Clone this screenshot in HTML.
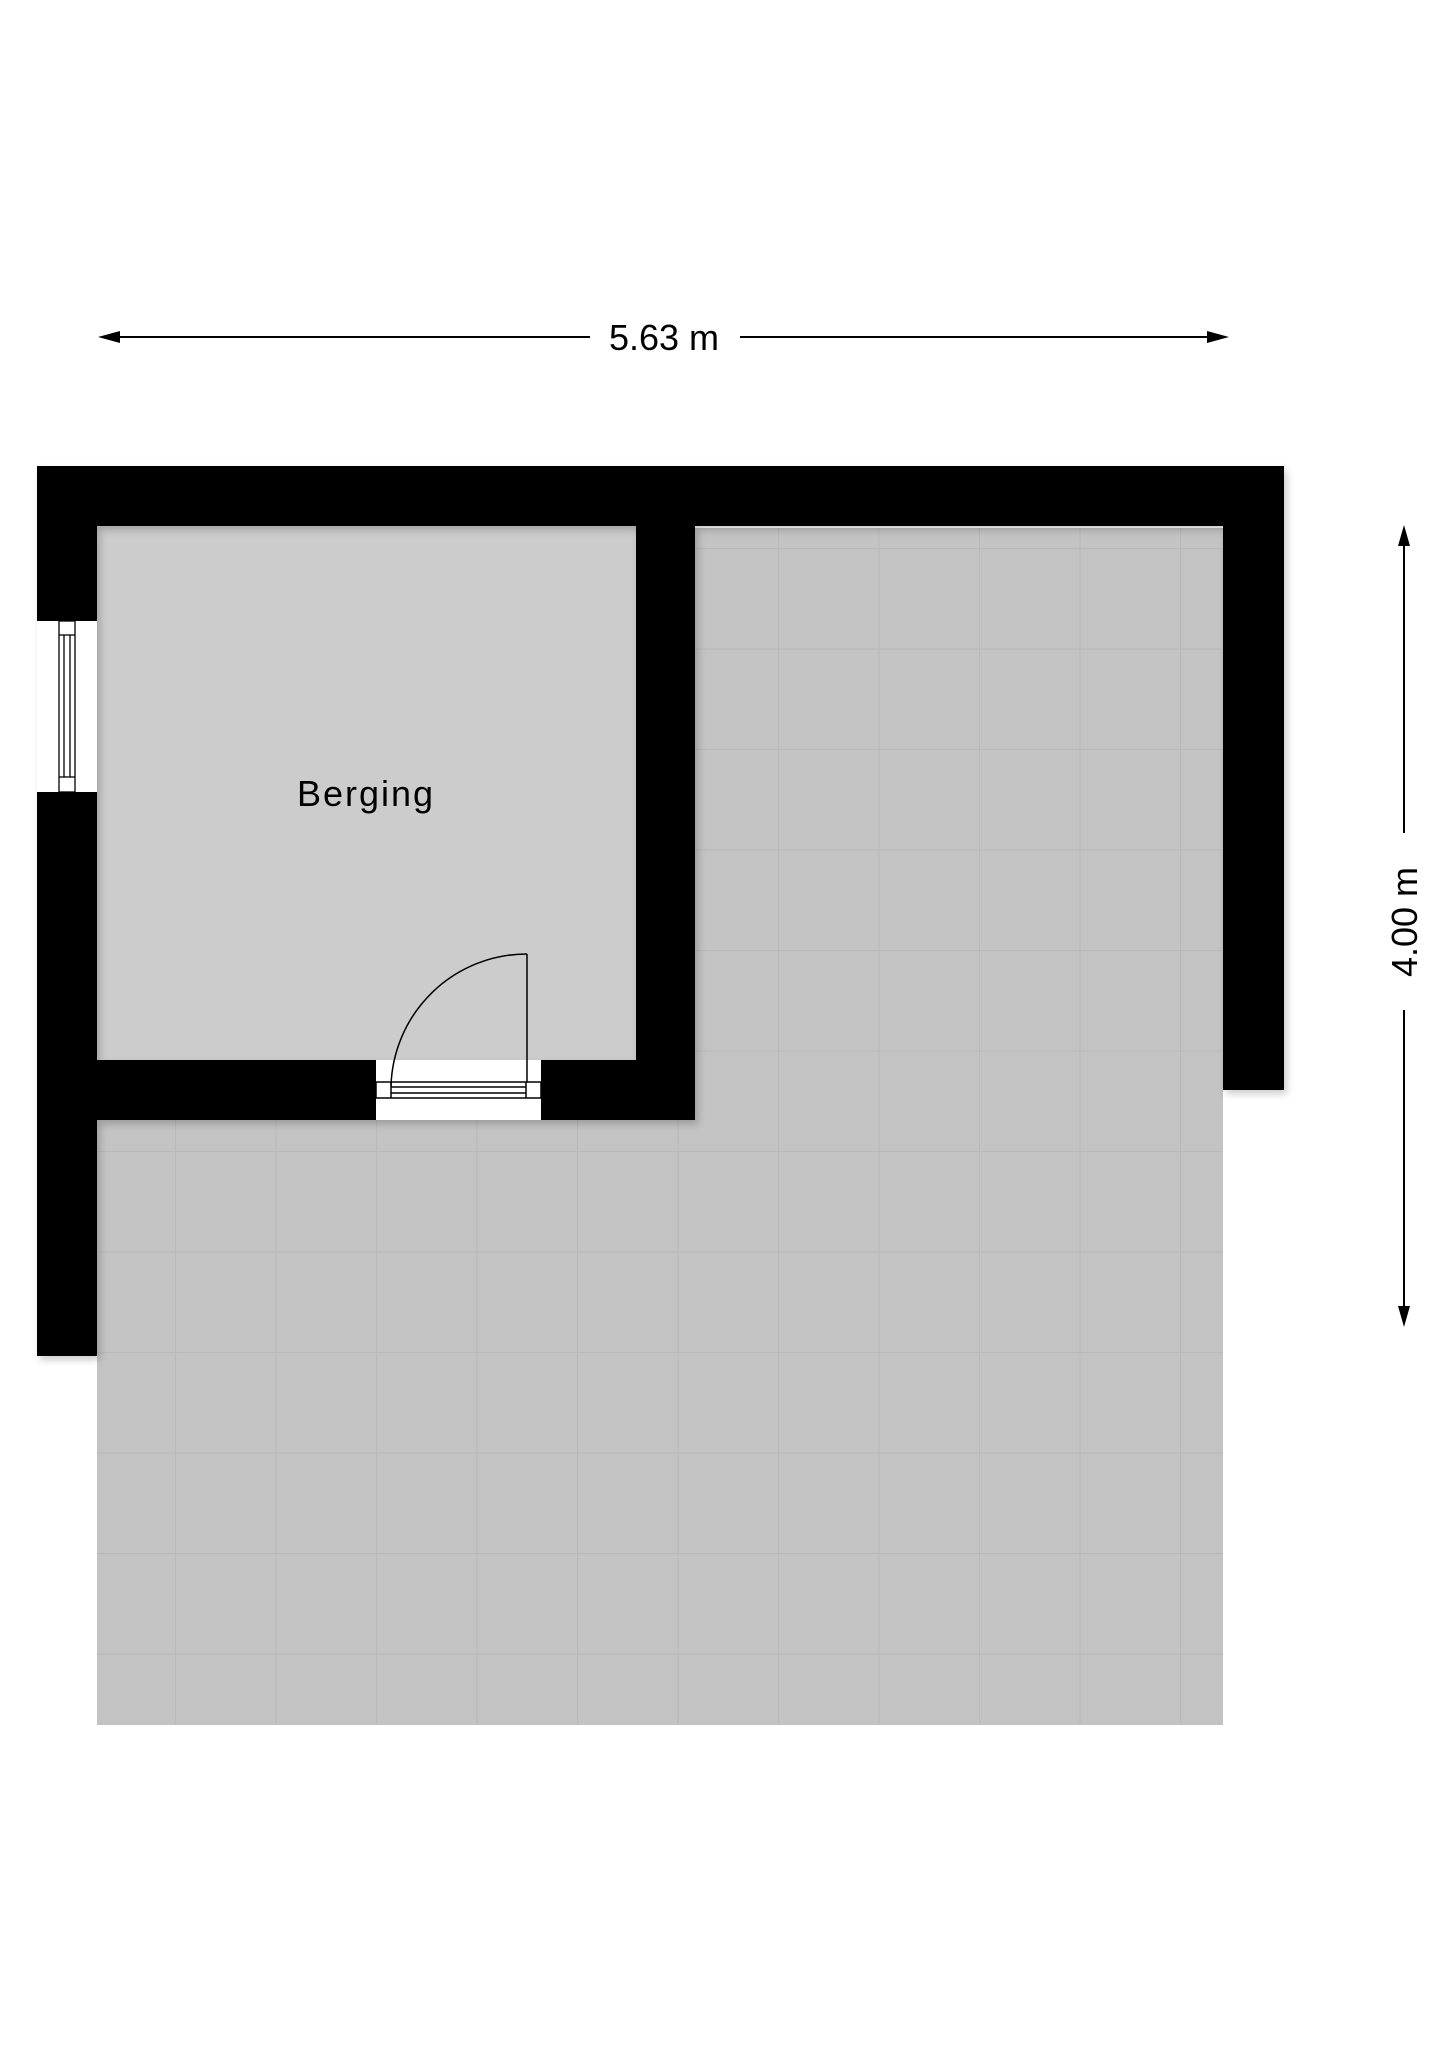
<!DOCTYPE html>
<html><head><meta charset="utf-8"><style>html,body{margin:0;padding:0;background:#fff}svg{display:block}</style></head>
<body>
<svg width="1448" height="2048" viewBox="0 0 1448 2048" xmlns="http://www.w3.org/2000/svg">
<defs>
<pattern id="tiles" x="-26" y="-55" width="100.5" height="100.5" patternUnits="userSpaceOnUse">
<rect width="100.5" height="100.5" fill="#c3c3c3"/>
<path d="M0 0.5 H100.5 M0.5 0 V100.5" stroke="#b9b9b9" stroke-width="1.2"/>
</pattern>
<filter id="sh" x="-5%" y="-5%" width="110%" height="110%"><feGaussianBlur stdDeviation="4"/></filter>
</defs>
<!-- floor -->
<rect x="695" y="528" width="528" height="1197" fill="url(#tiles)"/>
<rect x="97" y="1120" width="1126" height="605" fill="url(#tiles)"/>
<!-- berging -->
<rect x="97" y="526" width="539" height="536" fill="#cccccc"/>
<!-- wall shadow -->
<path d="M37 466 H1284 V1090 H1223 V526 H695 V1120 H97 V1356 H37 Z M97 526 V1060 H636 V526 Z" fill="#000" fill-rule="evenodd" opacity="0.2" filter="url(#sh)" transform="translate(3,4)"/>
<!-- walls -->
<path d="M37 466 H1284 V1090 H1223 V526 H695 V1120 H97 V1356 H37 Z M97 526 V1060 H636 V526 Z" fill="#000" fill-rule="evenodd"/>
<!-- window -->
<rect x="37" y="621" width="60" height="171" fill="#fff"/>
<g fill="none" stroke="#000" stroke-width="1.3">
<rect x="59" y="621" width="16" height="171"/>
<line x1="59" y1="635" x2="75" y2="635"/><line x1="59" y1="777" x2="75" y2="777"/>
<line x1="64" y1="635" x2="64" y2="777"/><line x1="70" y1="635" x2="70" y2="777"/>
</g>
<!-- door -->
<rect x="376" y="1060" width="165" height="60" fill="#fff"/>
<g fill="none" stroke="#000" stroke-width="1.5">
<rect x="376" y="1082" width="165" height="16"/>
<line x1="391" y1="1082" x2="391" y2="1098"/><line x1="526" y1="1082" x2="526" y2="1098"/>
<line x1="391" y1="1087" x2="526" y2="1087"/><line x1="391" y1="1093" x2="526" y2="1093"/>
<line x1="527" y1="954" x2="527" y2="1082"/>
<path d="M527 954 A136 136 0 0 0 391 1086"/>
</g>
<!-- label -->
<text x="366" y="806" font-family="Liberation Sans, sans-serif" font-size="36" letter-spacing="2" text-anchor="middle" fill="#000">Berging</text>
<!-- dims -->
<g stroke="#000" stroke-width="2">
<line x1="112" y1="337" x2="590" y2="337"/>
<line x1="740" y1="337" x2="1215" y2="337"/>
<line x1="1404" y1="540" x2="1404" y2="833"/>
<line x1="1404" y1="1010" x2="1404" y2="1312"/>
</g>
<path d="M98 337 L120 331 L120 343 Z" fill="#000"/>
<path d="M1229 337 L1207 331 L1207 343 Z" fill="#000"/>
<path d="M1404 525 L1398 546 L1410 546 Z" fill="#000"/>
<path d="M1404 1327 L1398 1306 L1410 1306 Z" fill="#000"/>
<text x="664" y="350" font-family="Liberation Sans, sans-serif" font-size="36" text-anchor="middle" fill="#000">5.63 m</text>
<text transform="translate(1417,922) rotate(-90)" x="0" y="0" font-family="Liberation Sans, sans-serif" font-size="36" text-anchor="middle" fill="#000">4.00 m</text>
</svg>
</body></html>
